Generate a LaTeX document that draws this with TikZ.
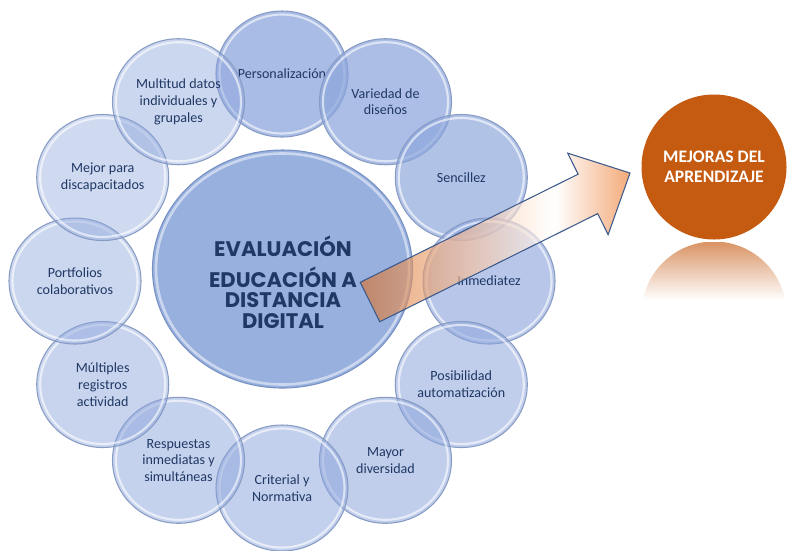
\documentclass[tikz,border=0pt]{standalone}
\usepackage{fontspec}
\setmainfont{Carlito}
\newfontfamily\hubfont{Poppins}
\usetikzlibrary{shapes.geometric, calc}

\definecolor{ballblue}{RGB}{140,165,220}
\definecolor{ballline}{RGB}{135,155,195}
\definecolor{hubblue}{RGB}{152,176,222}
\definecolor{hubline}{RGB}{120,145,195}
\definecolor{navytext}{RGB}{31,56,100}
\definecolor{goalorange}{RGB}{197,90,17}
\definecolor{arroworange}{RGB}{237,125,49}
\definecolor{arrowtail}{RGB}{213,112,44}
\definecolor{arrowline}{RGB}{60,90,140}
\pgfdeclarehorizontalshading{arrowfade}{100bp}{color(0bp)=(arrowtail); color(25bp)=(arrowtail);
    color(45bp)=(arroworange!50!white); color(61bp)=(white); color(75bp)=(arroworange); color(100bp)=(arroworange)}

\begin{document}
\begin{tikzpicture}[
        x=0.2mm, y=-0.2mm,
        font=\fontsize{8}{9.5}\selectfont,
        ball/.style={ellipse, draw=ballline, line width=0.6pt, fill=ballblue, text opacity=1, text=navytext,
            minimum width=26.4mm, minimum height=25.2mm, inner sep=0pt, align=center,
            path picture={\draw[white, line width=1.2pt, opacity=0.6] (path picture bounding box.center) ellipse [x radius=12.5mm, y radius=11.9mm];}},
        hub/.style={ellipse, draw=hubline, line width=0.6pt, fill=hubblue, minimum width=52mm, minimum height=47.6mm, inner sep=0pt,
            path picture={\draw[white, line width=1.5pt, opacity=0.5] (path picture bounding box.center) ellipse [x radius=25.3mm, y radius=23.1mm];}},
        hubtext/.style={text=navytext, align=center, font=\hubfont\bfseries\fontsize{12}{11.5}\selectfont},
        goal/.style={circle, fill=goalorange, minimum size=29mm, inner sep=0pt, text=white, align=center,
            font=\bfseries\fontsize{10}{11.5}\selectfont},
        bigarrow/.style={draw=arrowline, line width=0.6pt, shading=arrowfade, fill opacity=0.65}
    ]
    \useasboundingbox (0,0) rectangle (788,550);

    \coordinate (ringc) at (282,281);
    \foreach \ang/\txt/\op [count=\i] in {
        90/Personalización/0.75, 60/{Variedad de\\diseños}/0.72, 30/Sencillez/0.68,
        0/Inmediatez/0.62, -30/{Posibilidad\\automatización}/0.55, -60/{Mayor\\diversidad}/0.55,
        -90/{Criterial y\\Normativa}/0.52, -120/{Respuestas\\inmediatas y\\simultáneas}/0.5,
        -150/{Múltiples\\registros\\actividad}/0.48, 180/{Portfolios\\colaborativos}/0.45,
        150/{Mejor para\\discapacitados}/0.42, 120/{Multitud datos\\individuales y\\grupales}/0.45}
        \node[ball, fill opacity=\op] (ball\i) at ($(ringc)+(-\ang:207)$) {\txt};

    \node[hub] (hub) at (282.5,269) {};
    \node[hubtext] (hublabel) at (283,282) {EVALUACIÓN\\[5pt]EDUCACIÓN A\\DISTANCIA\\DIGITAL};

    % reflection under the goal
    \begin{scope}
        \clip (714,314) circle [radius=72.5];
        \shade[top color=goalorange!65!white, bottom color=white] (640,242) rectangle (790,300);
    \end{scope}
    \node[goal] (goal) at (714,167) {MEJORAS DEL\\APRENDIZAJE};

    % block arrow from the hub towards the goal
    \coordinate (tail) at (370,302);
    \coordinate (tip) at (630,173);
    \coordinate (neck) at ($(tip)!9.4mm!(tail)$);
    \shade[bigarrow] ($(tail)!4.4mm!90:(tip)$) -- ($(neck)!4.4mm!90:(tip)$) -- ($(neck)!9.1mm!90:(tip)$) -- (tip)
        -- ($(neck)!9.1mm!-90:(tip)$) -- ($(neck)!4.4mm!-90:(tip)$) -- ($(tail)!4.4mm!-90:(tip)$) -- cycle;

\end{tikzpicture}
\end{document}
